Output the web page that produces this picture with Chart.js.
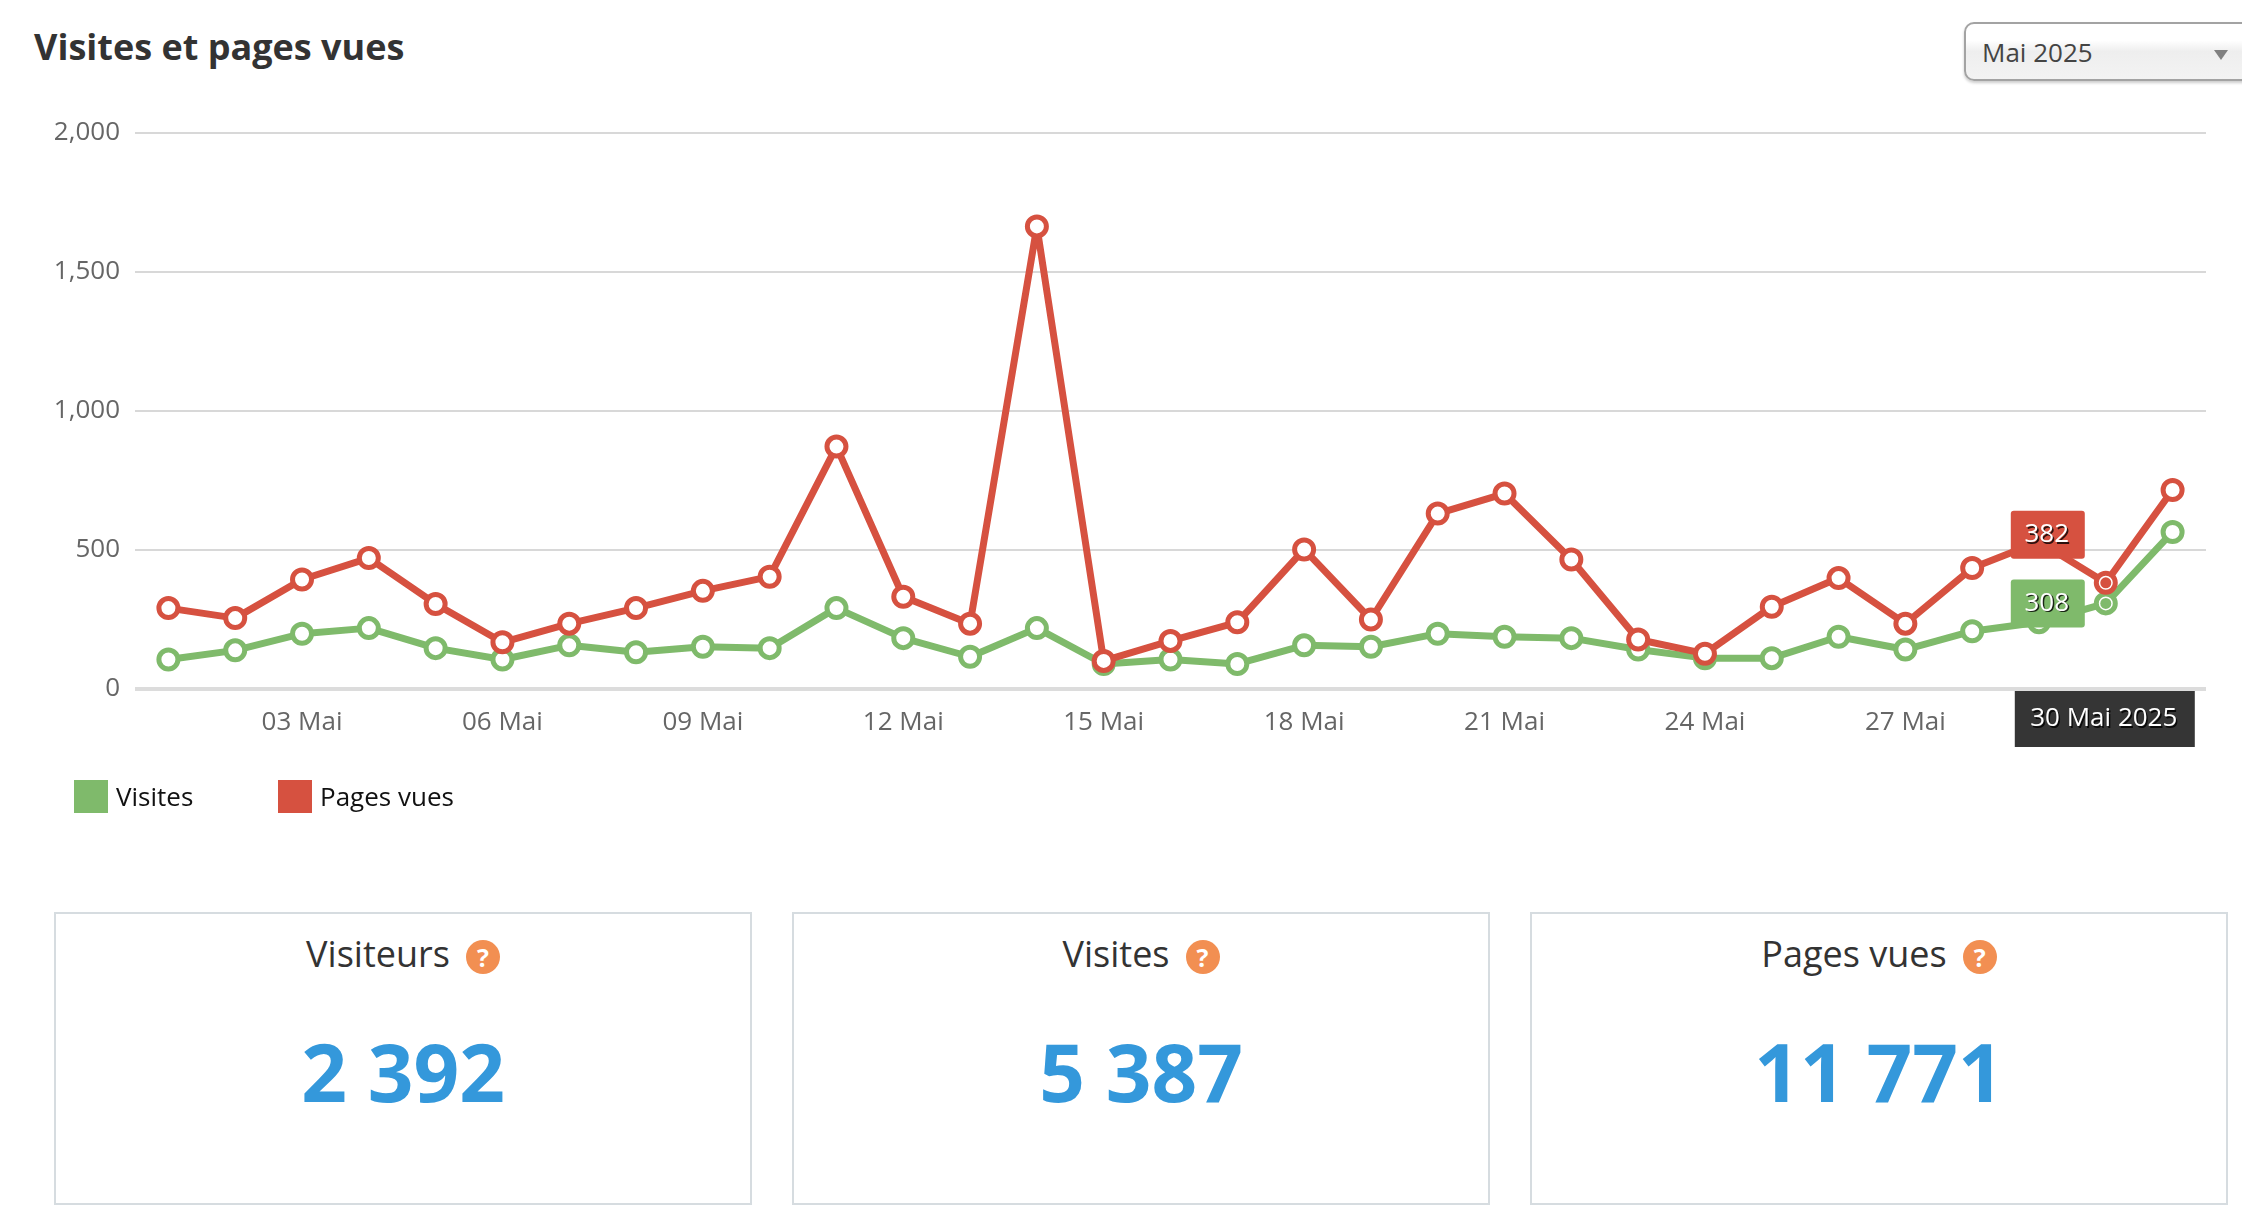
<!DOCTYPE html>
<html lang="fr">
<head>
<meta charset="UTF-8" />
<title>Visites et pages vues</title>
<script src="https://cdn.jsdelivr.net/npm/chart.js"></script>
<style>
    html, body { margin: 0; padding: 0; background: #fff; }
    body { width: 2242px; height: 1216px; overflow: hidden; position: relative; font-family: 'Open Sans', sans-serif; }
    h1 { position: absolute; left: 34px; top: 22px; margin: 0; font-size: 36px; line-height: 50px; font-weight: 700; color: #333; }
    #mois { position: absolute; left: 1964px; top: 22px; width: 320px; height: 59px; box-sizing: border-box; border: 2px solid #a3a3a3; border-radius: 10px;
        background: linear-gradient(#fff 0%, #fff 30%, #eee 50%, #f3f3f3 100%); box-shadow: 0 2px 3px rgba(0,0,0,.2);
        font-size: 26px; line-height: 57px; color: #444; padding-left: 16px; }
    #mois i { position: absolute; left: 248px; top: 26px; border-left: 7px solid transparent; border-right: 7px solid transparent; border-top: 10px solid #808080; }
    #graph { position: absolute; left: 0; top: 100px; }
    #legende { position: absolute; top: 780px; left: 0; font-size: 26px; line-height: 32px; color: #111; }
    #legende span { position: absolute; white-space: nowrap; }
    #legende b { position: absolute; top: 0; width: 34px; height: 33px; }
    .carte { position: absolute; top: 912px; width: 698px; height: 293px; box-sizing: border-box; border: 2px solid #d6dce0; text-align: center; }
    .carte .nom { position: absolute; left: 0; right: 0; top: 15px; font-size: 36px; line-height: 50px; color: #333; }
    .carte .nom i { display: inline-block; width: 34px; height: 34px; margin-left: 16px; border-radius: 50%; background: #f28f52; color: #fff;
        font: 700 25px/34px 'Open Sans', sans-serif; vertical-align: 0; }
    .carte .val { position: absolute; left: 0; right: 0; top: 102px; font-size: 80px; line-height: 110px; font-weight: 700; color: #3498db; }
</style>
</head>
<body>

<h1>Visites et pages vues</h1>
<div id="mois">Mai 2025<i></i></div>
<canvas id="graph" width="2242" height="680"></canvas>
<div id="legende"></div>
<div id="cartes"></div>

<script>
    const categories = ["01 Mai","02 Mai","03 Mai","04 Mai","05 Mai","06 Mai","07 Mai","08 Mai","09 Mai","10 Mai",
        "11 Mai","12 Mai","13 Mai","14 Mai","15 Mai","16 Mai","17 Mai","18 Mai","19 Mai","20 Mai",
        "21 Mai","22 Mai","23 Mai","24 Mai","25 Mai","26 Mai","27 Mai","28 Mai","29 Mai","30 Mai","31 Mai"];
    const tickLabels = ["03 Mai","06 Mai","09 Mai","12 Mai","15 Mai","18 Mai","21 Mai","24 Mai","27 Mai"];
    const visites = [106,139,199,219,147,106,157,132,152,147,291,183,116,219,90,106,90,157,152,199,188,183,142,111,111,188,142,208,240,308,565];
    const pagesVues = [291,255,394,471,306,168,235,291,353,404,872,332,235,1664,101,173,240,502,250,631,703,466,178,127,296,399,235,435,530,382,716];
    const yTicks = [0,500,1000,1500,2000];
    const dateSurvol = "30 Mai 2025";
    const indexSurvol = 29;

    const vert = "#7fba6b";
    const rouge = "#d65140";

    const statNoms = ["Visiteurs","Visites","Pages vues"];
    const statValeurs = ["2 392","5 387","11 771"];
    const statGauche = [54,792,1530];

    // legende et cartes
    const legende = document.getElementById("legende");
    [["Visites",vert,74],["Pages vues",rouge,278]].forEach(l => {
        legende.innerHTML += `<b style="left:${l[2]}px;background:${l[1]}"></b><span style="left:${l[2]+42}px">${l[0]}</span>`;
    });
    const cartes = document.getElementById("cartes");
    statNoms.forEach((n, i) => {
        cartes.innerHTML += `<div class="carte" style="left:${statGauche[i]}px"><div class="nom">${n}<i>?</i></div><div class="val">${statValeurs[i]}</div></div>`;
    });

    // etiquettes du survol (30 Mai)
    const survol = {
        id: "survol",
        afterDatasetsDraw(chart) {
            const ctx = chart.ctx;
            const x = chart.scales.x.getPixelForValue(indexSurvol);
            const bas = chart.scales.y.getPixelForValue(0);
            ctx.save();
            chart.data.datasets.forEach(ds => {
                const y = chart.scales.y.getPixelForValue(ds.data[indexSurvol]);
                ctx.fillStyle = ds.borderColor;
                ctx.beginPath();
                ctx.arc(x, y, 5.5, 0, Math.PI * 2);
                ctx.fill();
            });
            chart.data.datasets.forEach(ds => {
                const y = chart.scales.y.getPixelForValue(ds.data[indexSurvol]);
                const decal = ds.borderColor === rouge ? -48 : 0;
                ctx.fillStyle = ds.borderColor;
                ctx.beginPath();
                ctx.roundRect(x - 95, y + decal - 24, 74, 48, 3);
                ctx.fill();
                texte(ctx, String(ds.data[indexSurvol]), x - 59, y + decal);
            });
            ctx.fillStyle = "#353535";
            ctx.fillRect(x - 91, bas + 2, 180, 56);
            texte(ctx, dateSurvol, x - 2, bas + 30);
            ctx.restore();
        }
    };

    function texte(ctx, t, x, y) {
        ctx.save();
        ctx.font = "26px 'Open Sans'";
        ctx.textAlign = "center";
        ctx.textBaseline = "middle";
        ctx.shadowColor = "rgba(0,0,0,.8)";
        ctx.shadowOffsetX = 1.5;
        ctx.shadowOffsetY = 1.5;
        ctx.fillStyle = "#fff";
        ctx.fillText(t, x, y);
        ctx.restore();
    }

    const serie = (label, data, couleur, order) => ({
        label, data, order,
        borderColor: couleur,
        borderWidth: 7,
        borderJoinStyle: "round",
        backgroundColor: couleur,
        pointRadius: 9.5,
        pointBorderWidth: 5,
        pointBorderColor: couleur,
        pointBackgroundColor: "#fff",
        tension: 0
    });

    new Chart(document.getElementById("graph"), {
        type: "line",
        data: {
            labels: categories,
            datasets: [serie("Visites", visites, vert, 2), serie("Pages vues", pagesVues, rouge, 1)]
        },
        plugins: [survol],
        options: {
            responsive: false,
            animation: false,
            devicePixelRatio: 1,
            layout: { padding: { top: 33, right: 36 } },
            plugins: { legend: { display: false }, tooltip: { enabled: false } },
            scales: {
                x: {
                    offset: true,
                    afterFit(s) { s.height = 91; },
                    border: { display: false },
                    grid: { display: false },
                    ticks: {
                        autoSkip: false,
                        maxRotation: 0,
                        padding: 10,
                        color: "#666",
                        font: { family: "'Open Sans'", size: 26 },
                        callback(v) { const l = this.getLabelForValue(v); return tickLabels.includes(l) ? l : ""; }
                    }
                },
                y: {
                    min: yTicks[0],
                    max: yTicks[yTicks.length - 1],
                    afterFit(s) { s.width = 135; },
                    afterBuildTicks(s) { s.ticks = yTicks.map(v => ({ value: v })); },
                    border: { display: false },
                    grid: {
                        drawTicks: false,
                        color: c => c.tick.value === 0 ? "#dcdcdc" : "#d8d8d8",
                        lineWidth: c => c.tick.value === 0 ? 4 : 2
                    },
                    ticks: {
                        padding: 15,
                        color: "#666",
                        font: { family: "'Open Sans'", size: 26 },
                        callback: v => v.toLocaleString("en-US")
                    }
                }
            }
        }
    });
</script>
</body>
</html>
